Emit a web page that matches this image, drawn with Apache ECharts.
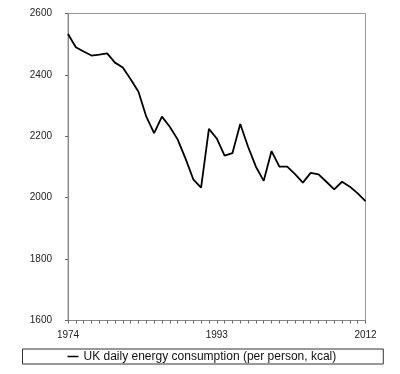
<!DOCTYPE html>
<html>
<head>
<meta charset="utf-8">
<script src="https://cdn.jsdelivr.net/npm/echarts@6/dist/echarts.min.js"></script>
<style>
html,body{margin:0;padding:0;background:#fff;}
#chart{width:400px;height:374px;}
</style>
</head>
<body>
<div id="chart"></div>
<script>
const years = [];
for (let y = 1974; y <= 2012; y++) years.push(String(y));
const seriesName = 'UK daily energy consumption (per person, kcal)';
const values = [2533, 2490, 2476, 2463, 2466, 2470, 2440, 2424, 2386, 2345,
  2264, 2210, 2264, 2231, 2190, 2128, 2060, 2033, 2224, 2193,
  2137, 2145, 2240, 2166, 2101, 2055, 2152, 2101, 2101, 2077,
  2049, 2081, 2076, 2052, 2027, 2052, 2036, 2014, 1989];
const yMin = 1600, yMax = 2600, yStep = 200;

const chart = echarts.init(document.getElementById('chart'), null, {renderer: 'canvas'});
chart.setOption({
  animation: false,
  backgroundColor: '#ffffff',
  grid: {
    left: 68, right: 34.5, top: 13.5, bottom: 53.5,
    show: true, borderColor: '#999', borderWidth: 1
  },
  xAxis: {
    type: 'category',
    data: years,
    boundaryGap: false,
    axisLine: {lineStyle: {color: '#888', width: 1}},
    axisTick: {show: true, interval: 0, length: 3, lineStyle: {color: '#666'}},
    axisLabel: {
      interval: 18, margin: 10, fontSize: 10,
      fontFamily: 'Liberation Sans, Arial, sans-serif', color: '#222'
    },
    splitLine: {show: false}
  },
  yAxis: {
    type: 'value',
    min: yMin, max: yMax, interval: yStep,
    axisLine: {show: true, lineStyle: {color: '#888', width: 1}},
    axisTick: {show: true, length: 3, lineStyle: {color: '#666'}},
    axisLabel: {
      margin: 16, fontSize: 10,
      fontFamily: 'Liberation Sans, Arial, sans-serif', color: '#222',
      formatter: function (v) { return String(v); }
    },
    splitLine: {show: false}
  },
  legend: {
    show: true,
    left: 22.5, top: 349,
    data: [{name: seriesName, icon: 'rect'}],
    itemWidth: 11, itemHeight: 1.5, itemGap: 5,
    padding: [1.5, 47, 1.5, 45],
    borderColor: '#333', borderWidth: 1,
    textStyle: {fontSize: 12, fontFamily: 'Liberation Sans, Arial, sans-serif', color: '#111'}
  },
  series: [{
    name: seriesName,
    type: 'line',
    data: values,
    symbol: 'none',
    lineStyle: {color: '#000', width: 1.8},
    itemStyle: {color: '#000'}
  }]
});
</script>
</body>
</html>
